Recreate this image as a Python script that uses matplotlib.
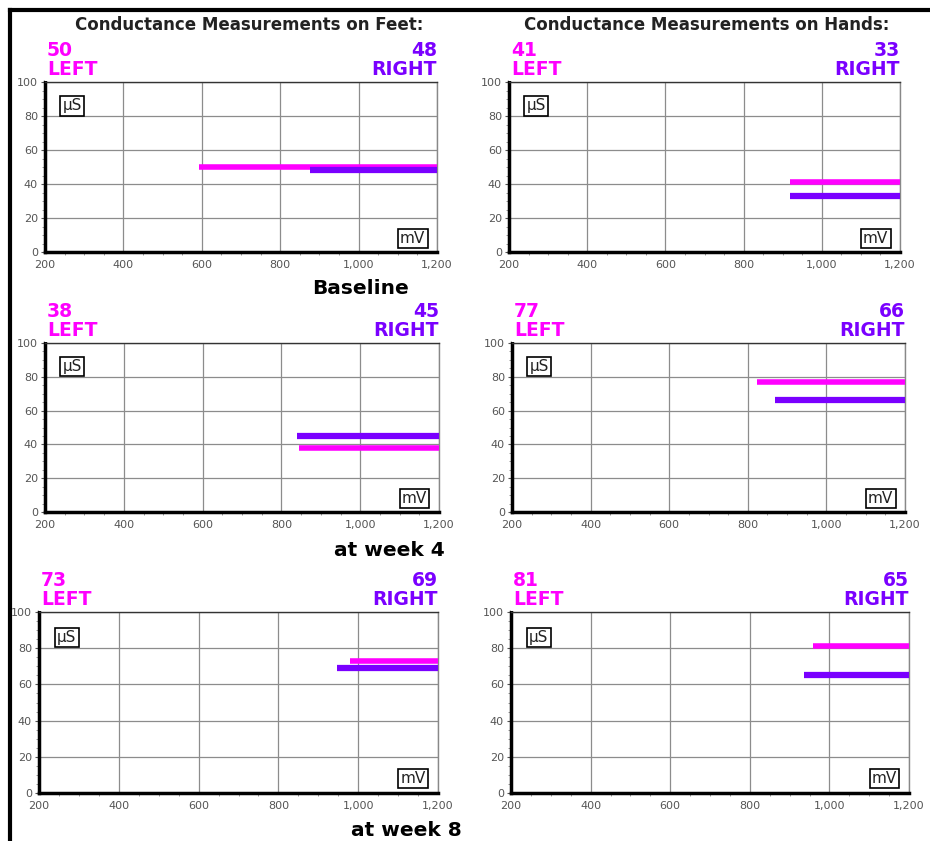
import matplotlib
matplotlib.use('Agg')
import matplotlib.pyplot as plt
from matplotlib.lines import Line2D
from matplotlib.ticker import MultipleLocator, FuncFormatter

W, H = 930, 841

# measurements per panel (feet/hands x baseline/week4/week8)
left_values = [50, 41, 38, 77, 73, 81]
right_values = [48, 33, 45, 66, 69, 65]
left_start_mv = [593, 918, 845, 823, 979, 959]
right_start_mv = [876, 918, 840, 869, 947, 936]
x_ticks = [200, 400, 600, 800, 1000, 1200]
y_ticks = [0, 20, 40, 60, 80, 100]
titles = ['Conductance Measurements on Feet:',
          'Conductance Measurements on Hands:']
stage_labels = ['Baseline', 'at week 4', 'at week 8']

MAGENTA = '#ff00ff'
PURPLE = '#7a00ff'

# axes boxes in pixels: x0, x1, ytop, ybottom
boxes = [(45, 437, 82, 252), (509, 900, 82, 252),
         (45, 439, 343, 512), (512, 905, 343, 512),
         (39, 438, 612, 793), (511, 909, 612, 793)]
stage_pos = [(360, 289), (389, 550), (406, 830)]

fig = plt.figure(figsize=(W / 100, H / 100), dpi=100)
fig.patch.set_facecolor('white')


def fx(x):
    return x / W


def fy(y):
    return 1 - y / H


# outer frame (top and left)
fig.add_artist(Line2D([fx(10), fx(930)], [fy(10), fy(10)], color='black', lw=3))
fig.add_artist(Line2D([fx(10), fx(10)], [fy(10), fy(841)], color='black', lw=3))

for i, (x0, x1, yt, yb) in enumerate(boxes):
    ax = fig.add_axes([fx(x0), fy(yb), fx(x1 - x0), (yb - yt) / H])
    ax.set_xlim(200, 1200)
    ax.set_ylim(0, 100)
    ax.set_xticks(x_ticks)
    ax.set_yticks(y_ticks)
    ax.xaxis.set_minor_locator(MultipleLocator(50))
    ax.yaxis.set_minor_locator(MultipleLocator(5))
    ax.xaxis.set_major_formatter(FuncFormatter(lambda v, p: '{:,.0f}'.format(v)))
    ax.tick_params(axis='both', which='major', labelsize=8, colors='#555555',
                   length=3, width=0.8, pad=2)
    ax.tick_params(axis='x', which='major', length=0, pad=6)
    ax.tick_params(axis='both', which='minor', length=2, width=0.6, colors='#888888')
    ax.grid(True, which='major', color='#8c8c8c', lw=0.9)
    ax.spines['left'].set_linewidth(2.5)
    ax.spines['bottom'].set_linewidth(2.5)
    ax.spines['top'].set_linewidth(1)
    ax.spines['top'].set_color('#333333')
    ax.spines['right'].set_linewidth(1)
    ax.spines['right'].set_color('#888888')

    lv, rv = left_values[i], right_values[i]
    ax.plot([left_start_mv[i], 1200], [lv, lv], color=MAGENTA, lw=4,
            solid_capstyle='butt', clip_on=False, zorder=3)
    ax.plot([right_start_mv[i], 1200], [rv, rv], color=PURPLE, lw=4.5,
            solid_capstyle='butt', clip_on=False, zorder=3)

    # unit boxes
    ax.text(0.045, 0.86, 'µS', transform=ax.transAxes, fontsize=11,
            family='DejaVu Sans', color='#222222', va='center', ha='left',
            bbox=dict(boxstyle='square,pad=0.15', fc='white', ec='black', lw=1.2))
    ax.text(0.97, 0.08, 'mV', transform=ax.transAxes, fontsize=11,
            family='DejaVu Sans', color='#222222', va='center', ha='right',
            bbox=dict(boxstyle='square,pad=0.15', fc='white', ec='black', lw=1.2))

    # LEFT / RIGHT headers
    ax.text(0.005, 1.015, '{0}\nLEFT'.format(lv), transform=ax.transAxes,
            fontsize=13.5, fontweight='bold', family='DejaVu Sans',
            color=MAGENTA, ha='left', va='bottom', linespacing=1.0,
            bbox=dict(boxstyle='square,pad=0.1', fc='white', ec='none'))
    ax.text(1.0, 1.015, '{0}\nRIGHT'.format(rv), transform=ax.transAxes,
            fontsize=13.5, fontweight='bold', family='DejaVu Sans',
            color=PURPLE, ha='right', va='bottom', linespacing=1.0,
            multialignment='right',
            bbox=dict(boxstyle='square,pad=0.1', fc='white', ec='none'))

fig.text(fx(249), fy(25), titles[0], fontsize=12, fontweight='bold',
         family='DejaVu Sans', color='#222222', ha='center', va='center')
fig.text(fx(707), fy(25), titles[1], fontsize=12, fontweight='bold',
         family='DejaVu Sans', color='#222222', ha='center', va='center')

for label, (x, y) in zip(stage_labels, stage_pos):
    fig.text(fx(x), fy(y), label, fontsize=14.5, fontweight='bold',
             family='DejaVu Sans', color='black', ha='center', va='center')

fig.savefig('out.png', dpi=100)
